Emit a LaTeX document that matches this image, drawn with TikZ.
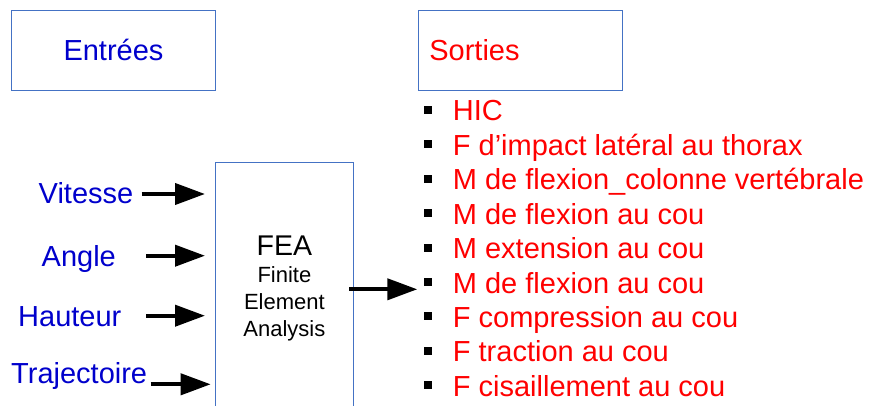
\documentclass[tikz,border=0pt]{standalone}
\usepackage{fontspec}
\setmainfont{Liberation Sans}
\usetikzlibrary{arrows.meta}
\definecolor{boxblue}{RGB}{68,114,196}
\definecolor{inblue}{RGB}{0,0,204}
\newcommand{\bul}{{\color{black}\raisebox{7pt}{\rule{8pt}{8pt}}}\hspace{20.7pt}}
\begin{document}
\begin{tikzpicture}[x=1pt, y=-1pt,
        titlebox/.style={rectangle, draw=boxblue, line width=1pt, minimum width=203.6pt, minimum height=79.7pt, font=\fontsize{29}{34}\selectfont},
        feabox/.style={rectangle, draw=boxblue, line width=1pt, minimum width=138.7pt, minimum height=251.7pt, align=center, font=\fontsize{22}{26.8}\selectfont},
        inlabel/.style={anchor=base west, inner sep=0pt, text=inblue, font=\fontsize{29}{34}\selectfont},
        outitem/.style={anchor=base west, inner sep=0pt, text=red, font=\fontsize{29}{34}\selectfont},
        arrow/.style={line width=4pt, -{Triangle[length=30pt, width=21pt]}}
    ]
        \useasboundingbox (0,0) rectangle (870,406);
        \clip (0,0) rectangle (870,406);

        \node[titlebox, text=inblue] (entrees) at (113.5,50.2) {Entrées};
        \node[titlebox, text=red, text width=181.7pt, inner xsep=11pt, align=left] (sorties) at (520.2,50.2) {Sorties};

        \node[feabox] (fea) at (284.4,288.5) {{\fontsize{28.5}{30}\selectfont FEA}\\Finite\\Element\\Analysis};

        \node[inlabel] (vitesse) at (38.5,203.3) {Vitesse};
        \node[inlabel] (angle) at (41.5,266.7) {Angle};
        \node[inlabel] (hauteur) at (18,326.7) {Hauteur};
        \node[inlabel] (trajectoire) at (11,383.3) {Trajectoire};

        \coordinate (vitesse-a) at (141.7,194);
        \coordinate (vitesse-b) at (205,194);
        \coordinate (angle-a) at (146,255.7);
        \coordinate (angle-b) at (205,255.7);
        \coordinate (hauteur-a) at (146,315.7);
        \coordinate (hauteur-b) at (205,315.7);
        \coordinate (trajectoire-a) at (150.7,384.3);
        \coordinate (trajectoire-b) at (210.7,384.3);
        \coordinate (fea-out) at (349.3,289.3);
        \coordinate (sorties-in) at (417.3,289.3);

        \node[outitem] (hic) at (424,121) {\bul HIC};
        \node[outitem] (thorax) at (424,155.4) {\bul F d’impact latéral au thorax};
        \node[outitem] (colonne) at (424,189.8) {\bul M de flexion\_colonne vertébrale};
        \node[outitem] (flexcou) at (424,224.2) {\bul M de flexion au cou};
        \node[outitem] (extcou) at (424,258.6) {\bul M extension au cou};
        \node[outitem] (flexcoubis) at (424,293) {\bul M de flexion au cou};
        \node[outitem] (compcou) at (424,327.4) {\bul F compression au cou};
        \node[outitem] (tractcou) at (424,361.8) {\bul F traction au cou};
        \node[outitem] (ciscou) at (424,396.2) {\bul F cisaillement au cou};

        \draw[arrow] (vitesse-a) -- (vitesse-b);
        \draw[arrow] (angle-a) -- (angle-b);
        \draw[arrow] (hauteur-a) -- (hauteur-b);
        \draw[arrow] (trajectoire-a) -- (trajectoire-b);
        \draw[arrow] (fea-out) -- (sorties-in);
    \end{tikzpicture}
\end{document}
